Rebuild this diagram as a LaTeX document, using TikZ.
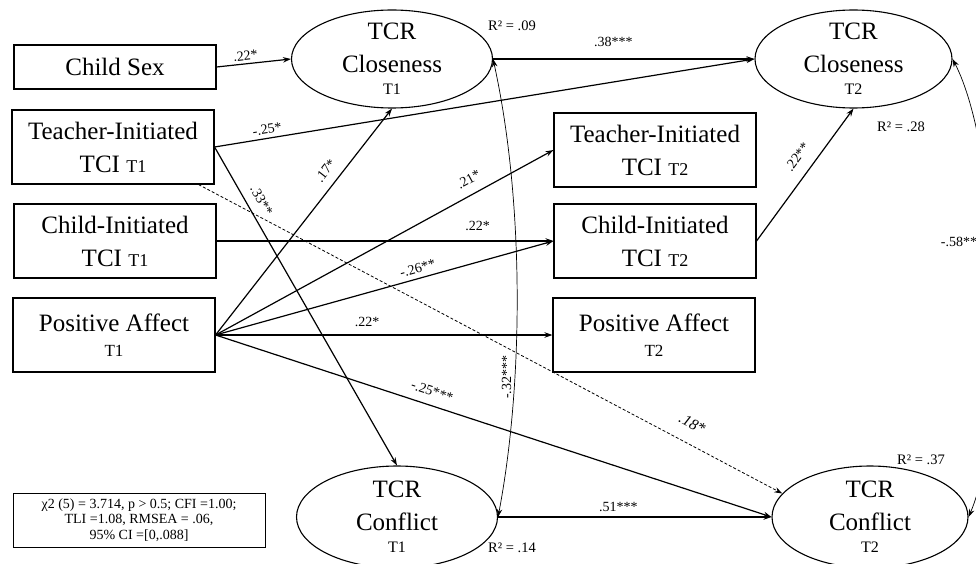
\documentclass[tikz,border=0pt]{standalone}
\usepackage{fontspec}
\setmainfont{Liberation Serif}
\usetikzlibrary{shapes.geometric,arrows.meta}
\begin{document}
\begin{tikzpicture}[x=1pt,y=-1pt,
  >={Stealth[length=8pt,width=5.5pt]},
  box/.style={draw, line width=1.1pt, rectangle, minimum width=202pt, minimum height=74pt, align=center, inner sep=0pt, font=\fontsize{25}{33}\selectfont},
  lat/.style={draw, line width=1.1pt, ellipse, minimum width=201pt, minimum height=98pt, inner sep=-4pt, align=center, font=\fontsize{25}{33}\selectfont},
  arr/.style={->, line width=1.2pt},
  corr/.style={<->, line width=0.7pt},
  lab/.style={font=\fontsize{14}{14}\selectfont, inner sep=0pt, sloped},
  lbl/.style={font=\fontsize{14}{14}\selectfont, inner sep=0pt},
  rsq/.style={font=\fontsize{14.5}{15}\selectfont, inner sep=0pt}
]
\useasboundingbox (0,0) rectangle (976,564);

% observed boxes
\node[box, minimum height=44pt] (cs) at (115,67) {Child Sex};
\node[box] (tt1) at (113,147) {Teacher-Initiated\\TCI {\fontsize{18}{18}\selectfont T1}};
\node[box] (ci1) at (115,241) {Child-Initiated\\TCI {\fontsize{18}{18}\selectfont T1}};
\node[box] (pa1) at (114,335) {Positive Affect\\[-8pt]{\fontsize{17}{17}\selectfont T1}};
\node[box] (tt2) at (655,150) {Teacher-Initiated\\TCI {\fontsize{18}{18}\selectfont T2}};
\node[box] (ci2) at (655,241) {Child-Initiated\\TCI {\fontsize{18}{18}\selectfont T2}};
\node[box] (pa2) at (654,335) {Positive Affect\\[-8pt]{\fontsize{17}{17}\selectfont T2}};

% latent ellipses
\node[lat] (cl1) at (392,59) {TCR\\Closeness\\[-11pt]{\fontsize{16}{16}\selectfont T1}};
\node[lat, minimum width=197pt] (cl2) at (853.5,59) {TCR\\Closeness\\[-11pt]{\fontsize{16}{16}\selectfont T2}};
\node[lat, minimum height=102pt] (ct1) at (397,517) {TCR\\Conflict\\[-11pt]{\fontsize{16}{16}\selectfont T1}};
\node[lat, minimum width=196pt, minimum height=102pt] (ct2) at (870,517) {TCR\\Conflict\\[-11pt]{\fontsize{16}{16}\selectfont T2}};

% fit box
\node[draw, line width=1pt, minimum width=252pt, minimum height=54pt, inner sep=0pt, align=center, font=\fontsize{14}{15.5}\selectfont] (fit) at (139,520)
  {χ2 (5) = 3.714, p > 0.5; CFI =1.00;\\TLI =1.08, RMSEA = .06,\\95\% CI =[0,.088]};

% paths
\draw[arr] (cs.east) -- node[lab, pos=0.4, above=2.5pt] {.22*} (cl1.west);
\draw[arr] (tt1.east) -- node[lab, pos=0.1, above=3.5pt] {-.25*} (cl2.west);
\draw[arr] (tt1.east) -- node[lab, pos=0.19, above=9pt] {.33**} (ct1.north);
\draw[arr, line width=0.8pt, dash pattern=on 3pt off 2pt] ([xshift=-16pt]tt1.south east) -- node[lab, pos=0.83, above=14pt, font=\fontsize{15.5}{15.5}\selectfont\itshape] {.18*} (ct2.165);
\draw[arr] (ci1.east) -- node[lab, pos=0.775, above=9.5pt] {.22*} (ci2.west);
\draw[arr] (pa1.east) -- node[lab, pos=0.687, above=9pt] {.17*} (cl1.south);
\draw[arr] (pa1.east) -- node[lab, pos=0.77, above=9.5pt] {.21*} (tt2.west);
\draw[arr] (pa1.east) -- node[lab, pos=0.606, above=4.5pt] {-.26**} (ci2.west);
\draw[arr] (pa1.east) -- node[lab, pos=0.45, above=7.5pt] {.22*} (pa2.west);
\draw[arr] (pa1.east) -- node[lab, pos=0.382, above=8.5pt] {-.25***} (ct2.west);
\draw[arr] (ci2.east) -- node[lab, pos=0.56, above=11.5pt] {.22**} (cl2.south);
\draw[arr] (cl1.east) -- node[lab, pos=0.46, above=11.5pt] {.38***} (cl2.west);
\draw[arr] (ct1.east) -- node[lab, pos=0.44, above=4.5pt] {.51***} (ct2.west);

% correlations
\draw[corr] (cl1.east) .. controls (524,200) and (524,380) .. node[lbl, pos=0.685, rotate=90, anchor=south, inner sep=3pt] {-.32***} (ct1.east);
\draw[corr] (cl2.east) .. controls (1000,150) and (1010,420) .. node[lbl, pos=0.42, anchor=east, xshift=-14pt] {-.58**} (ct2.east);

% R squared
\node[rsq] (r1) at (512,26) {R² = .09};
\node[rsq] (r2) at (901,127) {R² = .28};
\node[rsq] (r3) at (512,548) {R² = .14};
\node[rsq] (r4) at (921,460) {R² = .37};
\end{tikzpicture}
\end{document}
